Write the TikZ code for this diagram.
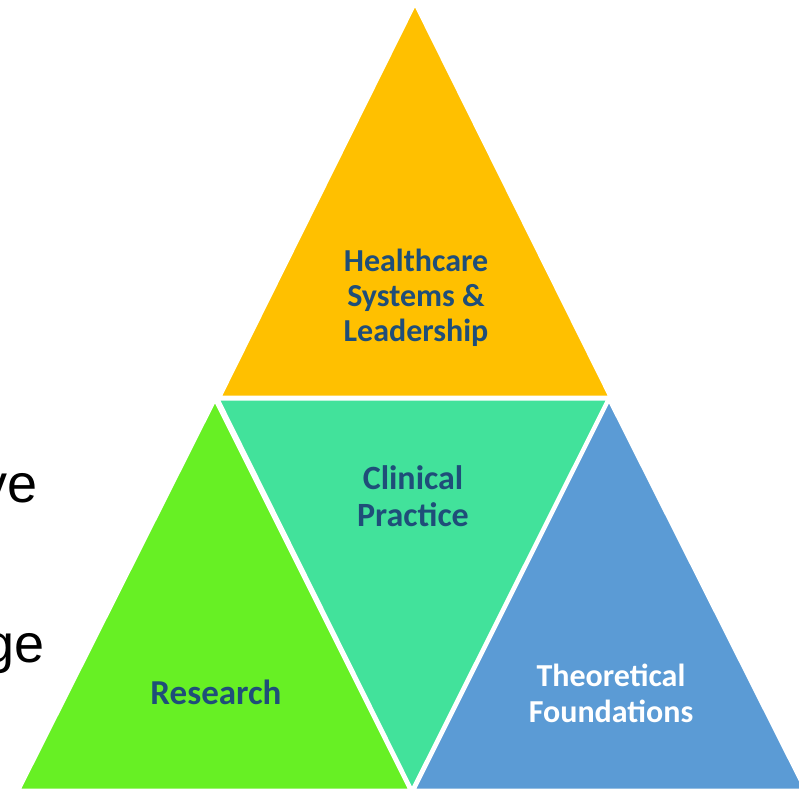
\documentclass[tikz,border=0pt]{standalone}
\usepackage{fontspec}
\setmainfont{Liberation Sans}
\newfontfamily\labelfont{Carlito}
\definecolor{cYellow}{HTML}{FFC000}
\definecolor{cGreen}{HTML}{67F024}
\definecolor{cTeal}{HTML}{42E29B}
\definecolor{cBlue}{HTML}{5B9BD5}
\definecolor{cText}{HTML}{1F4E79}
\tikzset{
  tri/.style={draw=white, line width=3pt, line join=miter},
  lbl/.style={text=cText, align=center, inner sep=0pt},
  side/.style={font=\fontsize{54}{60}\selectfont, inner sep=0pt}
}
\begin{document}
\begin{tikzpicture}[x=1pt,y=-1pt]
\useasboundingbox (0,0) rectangle (799,789);
\begin{scope}
\clip (0,0) rectangle (799,789);
% side text (cut off)
\node[side, anchor=base east] (sv) at (38,502) {ve};
\node[side, anchor=base east] (sg) at (45,662) {ge};
% triangles
\filldraw[tri, fill=cYellow] (415,4) -- (610,397) -- (220,397) -- cycle;
\filldraw[tri, fill=cTeal] (218,399) -- (608,399) -- (412,790) -- cycle;
\filldraw[tri, fill=cGreen] (215,400) -- (410,790) -- (19,790) -- cycle;
\filldraw[tri, fill=cBlue] (609,400) -- (805,790) -- (414,790) -- cycle;
\end{scope}
% labels
\node[lbl, font=\labelfont\bfseries\fontsize{32}{35}\selectfont] (hc) at (416,298) {Healthcare\\Systems \&\\Leadership};
\node[lbl, font=\labelfont\bfseries\fontsize{34}{37}\selectfont] (cp) at (413,496) {Clinical\\Practice};
\node[lbl, font=\labelfont\bfseries\fontsize{35}{38}\selectfont] (rs) at (216,692) {Research};
\node[lbl, text=white, font=\labelfont\bfseries\fontsize{32}{36}\selectfont] (tf) at (611,693) {Theoretical\\Foundations};
\end{tikzpicture}
\end{document}
